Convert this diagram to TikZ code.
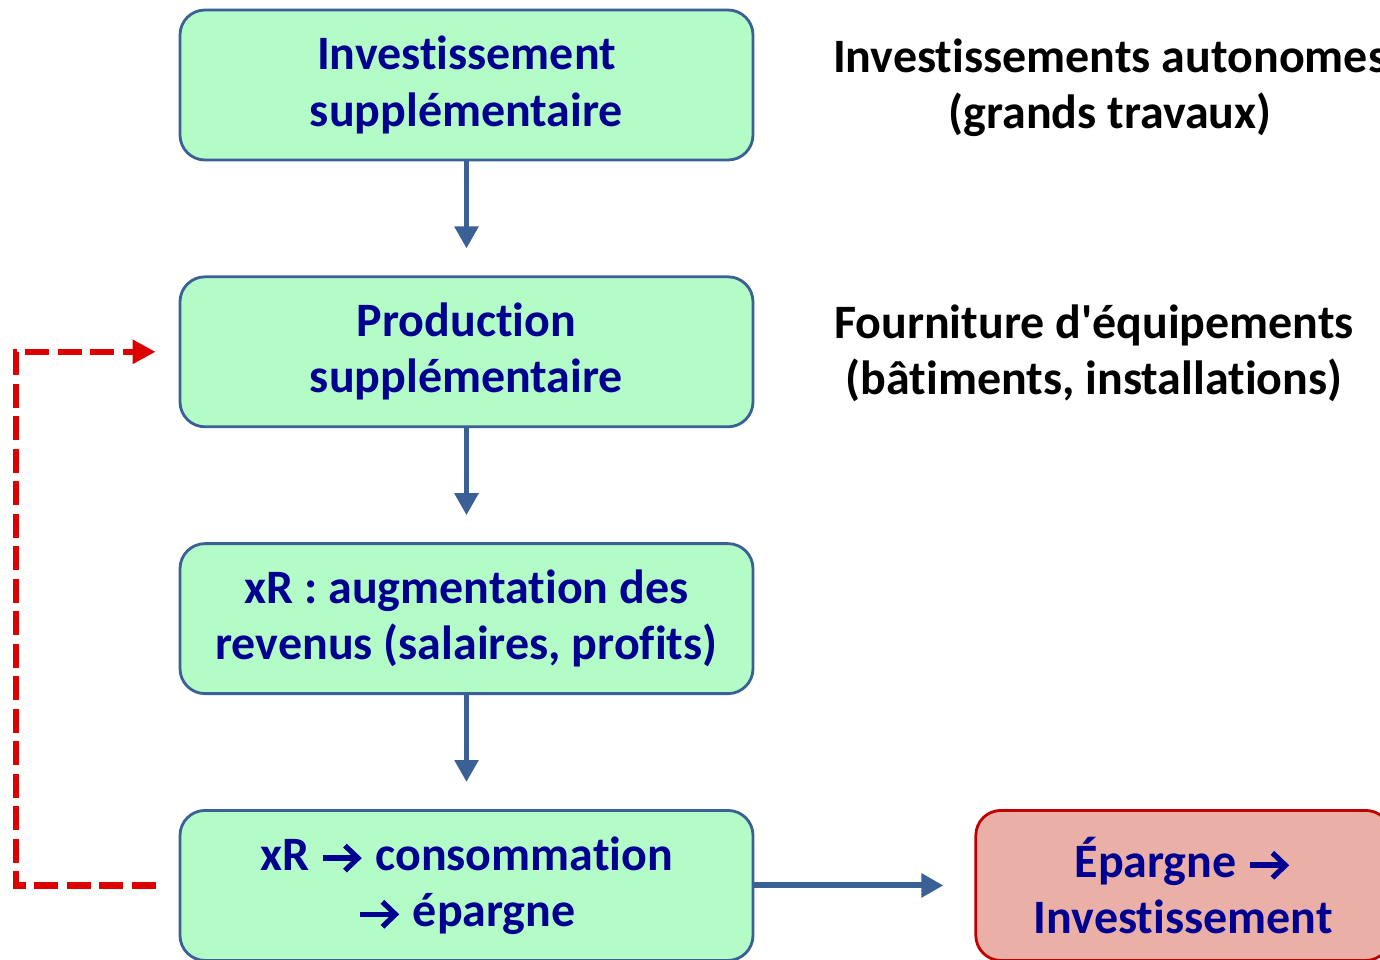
\documentclass[tikz,border=0pt]{standalone}
\usepackage{fontspec}
\setmainfont{Carlito}[Ligatures={NoCommon,TeX}]
\usetikzlibrary{arrows.meta}
\usetikzlibrary{positioning}

\definecolor{boxgreen}{HTML}{B3FCC8}
\definecolor{boxblue}{HTML}{3A6096}
\definecolor{textnavy}{HTML}{000090}
\definecolor{boxpink}{HTML}{EAB0A8}
\definecolor{boxred}{HTML}{C00000}
\definecolor{loopred}{HTML}{DD0000}

\newcommand{\ra}{\tikz[baseline=-0.25em]\draw[draw=textnavy, line width=3.2pt,
    -{Straight Barb[length=0.26cm,width=0.5cm,line width=3pt]}] (0,0) -- (0.78cm,0);}

\begin{document}
\begin{tikzpicture} [
        node distance = 2.28cm,
        every node/.style = {
          align = center,
          font = \fontsize{27.3}{32}\selectfont\bfseries,
        },
        stagebox/.style = {
          draw = boxblue,
          line width = 1.6pt,
          fill = boxgreen,
          rounded corners = 0.5cm,
          text = textnavy,
          minimum width = 11.46cm,
          minimum height = 3cm,
        },
        resultbox/.style = {
          stagebox,
          draw = boxred,
          fill = boxpink,
          minimum width = 8.3cm,
        },
        note/.style = {
          text = black,
        },
        flow/.style = {
          draw = boxblue,
          line width = 3.4pt,
          -{Triangle[width=0.46cm,length=0.44cm]},
        },
        feedback/.style = {
          draw = loopred,
          line width = 3.6pt,
          dash pattern = on 0.48cm off 0.17cm,
          -{Triangle[width=0.46cm,length=0.46cm]},
        }
      ]

    \useasboundingbox (0,0) rectangle (27.6,-19.2);
    \clip (0,0) rectangle (27.6,-19.2);

    % chain of boxes
    \node [stagebox] at (9.33,-1.7) (inv) {Investissement\\suppl\'ementaire};
    \node [stagebox, below = of inv] (prod) {Production\\suppl\'ementaire};
    \node [stagebox, below = of prod] (rev) {xR : augmentation des\\revenus (salaires, profits)};
    \node [stagebox, below = of rev] (cons) {xR \ra{} consommation\\\ra{} \'epargne};

    \node [resultbox, right = 4.4cm of cons] (epar) {\'Epargne \ra\\Investissement};

    % side notes
    \node [note] at (22.2,-1.76) (autoNote) {Investissements autonomes\\(grands travaux)};
    \node [note] at (21.88,-7.06) (equipNote) {Fourniture d\textquotesingle\'equipements\\(b\^atiments, installations)};

    \draw[flow, shorten >= 0.54cm] (inv) -- (prod);
    \draw[flow, shorten >= 0.54cm] (prod) -- (rev);
    \draw[flow, shorten >= 0.54cm] (rev) -- (cons);
    \draw[flow, shorten >= 0.62cm] (cons) -- (epar);

    \coordinate (loopCorner) at (0.32,0);
    \draw[feedback, shorten <= 0.46cm, shorten >= 0.46cm]
      (cons.west) -- (cons.west -| loopCorner) |- (prod.west);
  \end{tikzpicture}
\end{document}
